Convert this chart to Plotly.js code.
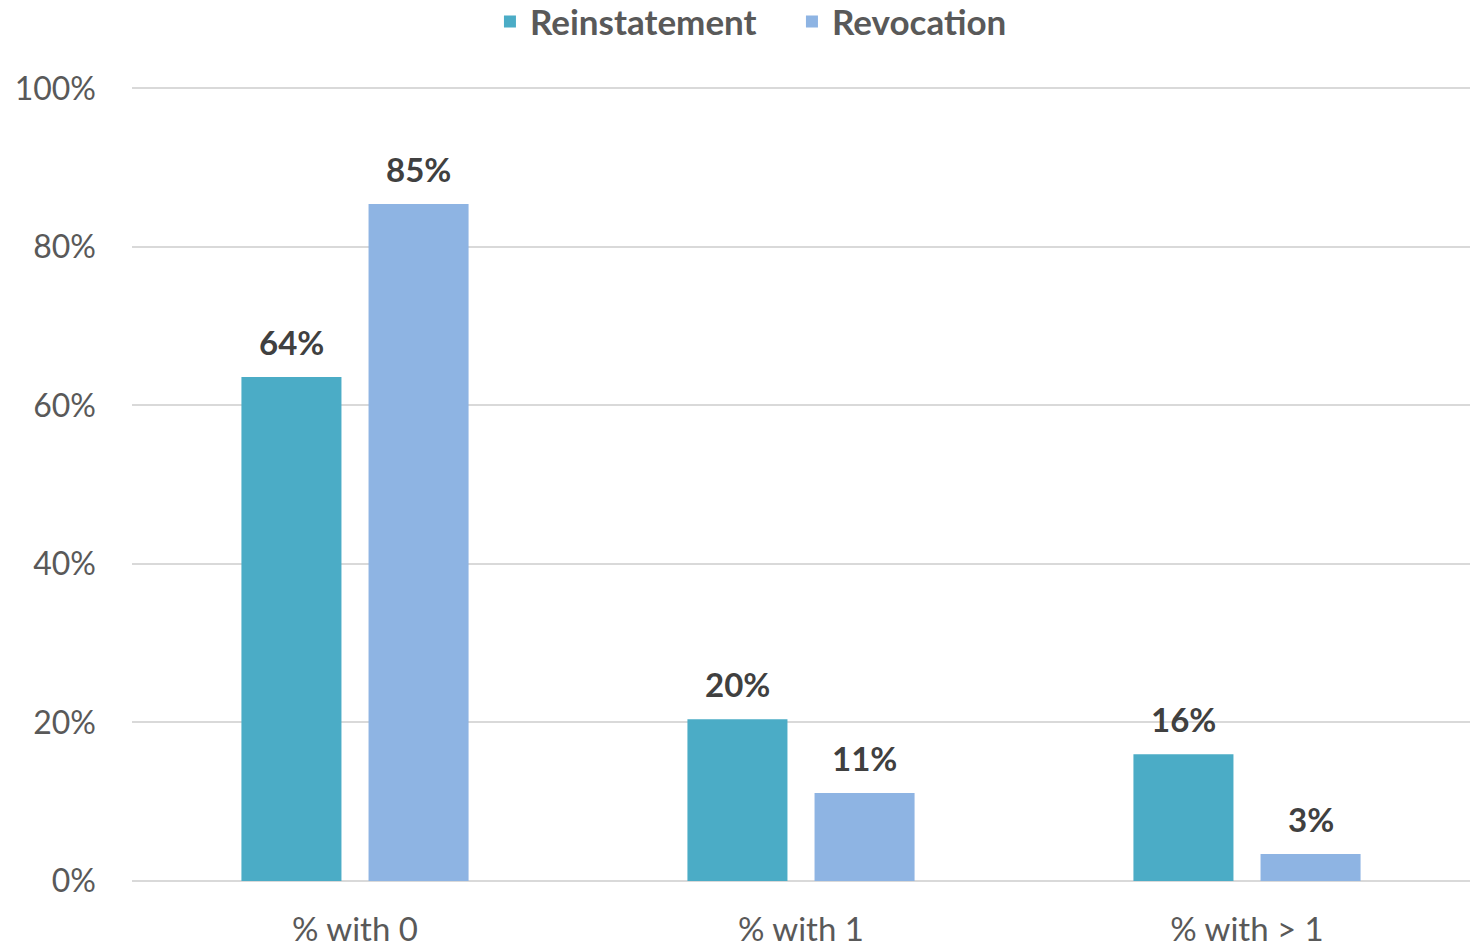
<!DOCTYPE html>
<html>
<head>
<meta charset="utf-8">
<script src="https://cdn.plot.ly/plotly-3.0.1.min.js"></script>
<style>html,body{margin:0;padding:0;background:#fff;}#chart{width:1470px;height:948px;}</style>
</head>
<body>
<div id="chart"></div>
<script>
var categories = ["% with 0", "% with 1", "% with > 1"];
var reinstatement = [63.6, 20.4, 16.0];
var revocation = [85.4, 11.1, 3.4];
var seriesNames = ["Reinstatement", "Revocation"];
var yTickVals = [0, 20, 40, 60, 80, 100];
var yTickText = ["0%", "20%", "40%", "60%", "80%", "100%"];

var FONT = "Lato, 'Open Sans', sans-serif";
var labelFont = {family: FONT, size: 33, color: "#404040", weight: "bold"};

var traces = [
  {type: "bar", name: seriesNames[0], x: categories, y: reinstatement,
   marker: {color: "#4BACC6"}, hoverinfo: "skip"},
  {type: "bar", name: seriesNames[1], x: categories, y: revocation,
   marker: {color: "#8EB4E3"}, hoverinfo: "skip"}
];

var annotations = [];
[reinstatement, revocation].forEach(function (vals, s) {
  vals.forEach(function (v, i) {
    annotations.push({
      x: categories[i], y: v, xref: "x", yref: "y",
      text: "<b>" + Math.round(v) + "%</b>", showarrow: false,
      yanchor: "bottom", xanchor: "center",
      xshift: s === 0 ? -63.5 : 63.5, yshift: 13,
      font: labelFont
    });
  });
});

var layout = {
  width: 1470, height: 948,
  margin: {l: 132, r: 0, t: 86, b: 67},
  paper_bgcolor: "#fff", plot_bgcolor: "#fff",
  barmode: "group", bargap: 0.43, bargroupgap: 0.213,
  showlegend: true,
  legend: {orientation: "h", x: 0.3333, xanchor: "left", xref: "container", y: 0.977, yref: "container", yanchor: "middle",
           font: {family: FONT, size: 35, color: "#595959", weight: "bold"}, itemwidth: 30,
           entrywidth: 257, entrywidthmode: "pixels"},
  xaxis: {tickfont: {family: FONT, size: 33, color: "#595959"}, showgrid: false, zeroline: false,
          showline: false, ticks: "", ticklabelstandoff: 26},
  yaxis: {range: [0, 100.3], tickvals: yTickVals, ticktext: yTickText,
          tickfont: {family: FONT, size: 32, color: "#595959"}, showgrid: true, gridcolor: "#D9D9D9", gridwidth: 2,
          zeroline: true, zerolinecolor: "#D9D9D9", zerolinewidth: 2, showline: false, ticks: "", ticklabelstandoff: 35},
  annotations: annotations,
  font: {family: FONT}
};

Plotly.newPlot("chart", traces, layout, {displayModeBar: false, staticPlot: true});
</script>
</body>
</html>
